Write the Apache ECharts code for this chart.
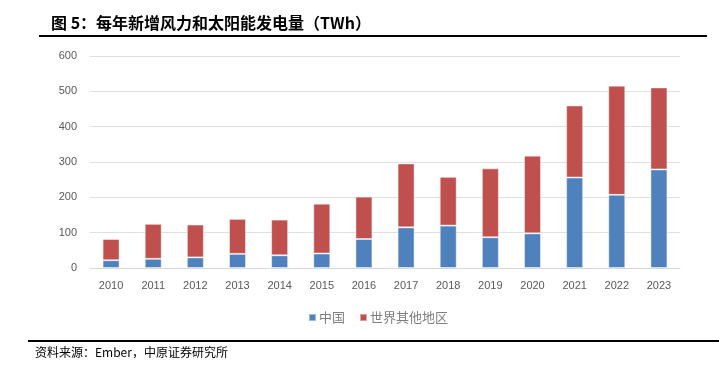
<!DOCTYPE html>
<html><head><meta charset="utf-8">
<script src="https://cdn.jsdelivr.net/npm/echarts@6/dist/echarts.min.js"></script>
<style>html,body{margin:0;padding:0;background:#fff}#c{width:719px;height:371px}</style>
</head><body><div id="c"></div>
<script>
const categories = ['2010','2011','2012','2013','2014','2015','2016','2017','2018','2019','2020','2021','2022','2023'];
const china = [22, 26, 30, 40, 36, 41, 82, 115, 120, 87, 98, 256, 207, 279];
const restOfWorld = [60, 99, 93, 99, 101, 141, 120, 181, 138, 195, 220, 204, 309, 232];
const seriesNames = ['中国', '世界其他地区'];
const titleText = '图 5：每年新增风力和太阳能发电量（TWh）';
const sourceText = '资料来源：Ember，中原证券研究所';

const chart = echarts.init(document.getElementById('c'));
const fam = '"Noto Sans CJK SC", "Noto Sans", sans-serif';
chart.setOption({
  animation: false,
  textStyle: { fontFamily: fam },
  title: {
    text: titleText, left: 46, top: 10,
    textStyle: { fontSize: 16, fontWeight: 'bold', color: '#000', fontFamily: fam }
  },
  grid: { left: 90, right: 39, top: 56, bottom: 103, containLabel: false },
  legend: {
    data: seriesNames, top: 306, left: 303, icon: 'rect',
    itemWidth: 7, itemHeight: 7, itemGap: 14,
    textStyle: { fontSize: 13, color: '#7f7f7f', padding: [0, 0, 0, -2] }
  },
  xAxis: {
    type: 'category', data: categories,
    axisLine: { lineStyle: { color: '#d9d9d9', width: 1 } },
    axisTick: { show: false },
    axisLabel: { color: '#595959', fontSize: 11, margin: 12, fontFamily: 'Liberation Sans, Arial, sans-serif' }
  },
  yAxis: {
    type: 'value', min: 0, max: 600, interval: 100,
    axisLine: { show: false }, axisTick: { show: false },
    splitLine: { lineStyle: { color: '#e0e0e0', width: 1 } },
    axisLabel: { color: '#595959', fontSize: 11, margin: 13, fontFamily: 'Liberation Sans, Arial, sans-serif' }
  },
  series: [
    { name: seriesNames[0], type: 'bar', stack: 'a', data: china, barWidth: 17,
      itemStyle: { color: '#4F81BD', borderColor: 'rgba(255,255,255,0.45)', borderWidth: 1 } },
    { name: seriesNames[1], type: 'bar', stack: 'a', data: restOfWorld, barWidth: 17,
      itemStyle: { color: '#C0504D', borderColor: 'rgba(255,255,255,0.45)', borderWidth: 1 } }
  ],
  graphic: [
    { type: 'rect', shape: { x: 39, y: 35, width: 668, height: 2 }, style: { fill: '#000' } },
    { type: 'rect', shape: { x: 28, y: 340, width: 691, height: 2 }, style: { fill: '#000' } },
    { type: 'text', left: 35, top: 346, style: { text: sourceText, fill: '#000', font: '12px ' + fam } }
  ]
});
</script></body></html>
